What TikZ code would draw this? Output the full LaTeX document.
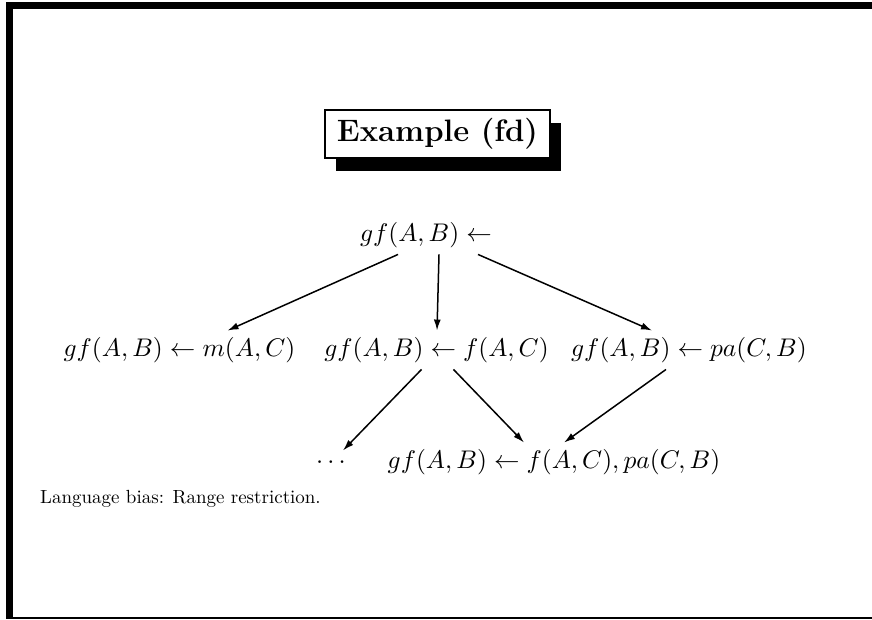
\documentclass[tikz,border=0pt]{standalone}
\usepackage[no-math]{fontspec}
\newfontfamily\dixfont{lmroman10-regular.otf}
\DeclareFontShape{OML}{cmm}{m}{it}{<->cmmi10}{}
\DeclareFontShape{OMS}{cmsy}{m}{n}{<->cmsy10}{}
\DeclareFontShape{OT1}{cmr}{m}{n}{<->cmr10}{}
\usetikzlibrary{shadows,arrows.meta}
\begin{document}
\begin{tikzpicture}[x=1pt,y=-1pt]
	% Styles
	\tikzstyle{fleche}=[-{Latex[length=11pt,width=7pt]},line width=1.5pt]
	\tikzstyle{clause}=[inner sep=6.5pt,font=\fontsize{25.5}{30}\selectfont]
	\tikzstyle{commentaire}=[inner sep=0pt,font=\dixfont\fontsize{19}{23}\selectfont]
	\tikzstyle{titre}=[draw,line width=1.6pt,fill=white,minimum width=225pt,minimum height=48pt,
		font=\fontsize{31}{36}\selectfont\bfseries,
		drop shadow={shadow xshift=11pt,shadow yshift=-13pt,fill=black,opacity=1}]
	% Cadre
	\useasboundingbox (0,0) rectangle (872,620);
	\fill (6,2) rectangle (872,9);
	\fill (6,2) rectangle (13,619);
	\fill (6,616.5) rectangle (872,619);
	% Titre
	\node[titre] (T) at (437.5,134) {Example (fd)};
	% Noeuds
	\node[clause] (R) at (426,235) {$gf(A,B)\leftarrow$};
	\node[clause] (L) at (179.5,350) {$gf(A,B)\leftarrow m(A,C)$};
	\node[clause] (C) at (436.5,350) {$gf(A,B)\leftarrow f(A,C)$};
	\node[clause] (D) at (689,350) {$gf(A,B)\leftarrow pa(C,B)$};
	\node[clause,anchor=base] (P) at (331,468.5) {$\cdots$};
	\node[clause] (B) at (554,462) {$gf(A,B)\leftarrow f(A,C),pa(C,B)$};
	\node[commentaire,anchor=base west] (biais) at (40,503) {Language bias: Range restriction.};
	% Arcs
	\draw[fleche] ([xshift=-28pt]R.south)--([xshift=48pt]L.north);
	\draw[fleche] ([xshift=13pt]R.south)--([xshift=0.5pt]C.north);
	\draw[fleche] ([xshift=52pt]R.south)--([xshift=-37pt]D.north);
	\draw[fleche] ([xshift=-15pt]C.south)--([xshift=12pt]P.north);
	\draw[fleche] ([xshift=17pt]C.south)--([xshift=-30pt]B.north);
	\draw[fleche] ([xshift=-23pt]D.south)--([xshift=10pt]B.north);
\end{tikzpicture}
\end{document}
